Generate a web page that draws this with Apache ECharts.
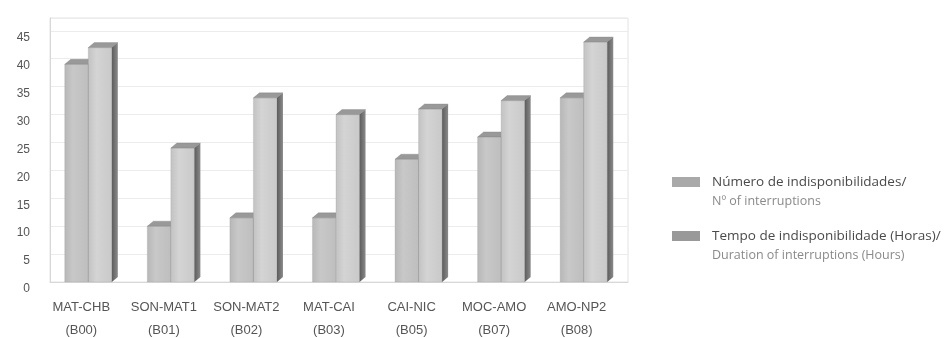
<!DOCTYPE html>
<html>
<head>
<meta charset="utf-8">
<script src="https://cdn.jsdelivr.net/npm/echarts@6/dist/echarts.min.js"></script>
<style>
  html, body { margin: 0; padding: 0; background: #ffffff; }
  #chart { width: 948px; height: 338px; }
</style>
</head>
<body>
<div id="chart"></div>
<script>
// Unavailability per line section
const categories = [
  'MAT-CHB\n(B00)', 'SON-MAT1\n(B01)', 'SON-MAT2\n(B02)', 'MAT-CAI\n(B03)',
  'CAI-NIC\n(B05)', 'MOC-AMO\n(B07)', 'AMO-NP2\n(B08)'
];
const interruptions = [39, 10, 11.5, 11.5, 22, 26, 33];
const duration = [42, 24, 33, 30, 31, 32.5, 43];
const seriesNames = [
  'Número de indisponibilidades/\nNº of interruptions',
  'Tempo de indisponibilidade (Horas)/\nDuration of interruptions (Hours)'
];
const yTicks = [0, 5, 10, 15, 20, 25, 30, 35, 40, 45];

const FONT = '"Liberation Sans", Arial, sans-serif';
const LEGEND_FONT = '"Open Sans", "Liberation Sans", sans-serif';

// Pseudo-3D column: front face, top face and right side face
function columnRenderer(slot) {
  return function (params, api) {
    const cat = api.value(0);
    const v = api.value(1);
    const top = api.coord([cat, v]);
    const base = api.coord([cat, 0]);
    const band = api.size([1, 0])[0];
    const w = band * 0.285;
    const dx = 6, dy = 5;
    const x0 = top[0] - w - dx / 2 + slot * w;
    const ty = top[1], by = base[1];
    return {
      type: 'group',
      children: [
        {
          type: 'rect',
          shape: { x: x0, y: ty, width: w, height: by - ty },
          style: {
            fill: new echarts.graphic.LinearGradient(0, 0, 1, 0, [
              { offset: 0, color: slot === 0 ? '#b7b7b7' : '#c2c2c2' },
              { offset: 0.35, color: slot === 0 ? '#c8c8c8' : '#d4d4d4' },
              { offset: 1, color: slot === 0 ? '#bebebe' : '#c9c9c9' }
            ]),
            stroke: 'rgba(150,150,150,0.5)', lineWidth: 0.5
          }
        },
        {
          type: 'polygon',
          shape: { points: [[x0, ty], [x0 + dx, ty - dy], [x0 + w + dx, ty - dy], [x0 + w, ty]] },
          style: { fill: '#999999', stroke: 'rgba(120,120,120,0.6)', lineWidth: 0.5 }
        },
        {
          type: 'polygon',
          shape: { points: [[x0 + w, ty], [x0 + w + dx, ty - dy], [x0 + w + dx, by - dy], [x0 + w, by]] },
          style: {
            fill: new echarts.graphic.LinearGradient(0, 0, 1, 0, [
              { offset: 0, color: '#5c5c5c' },
              { offset: 1, color: '#8a8a8a' }
            ])
          }
        }
      ]
    };
  };
}

function legendText(name) {
  const parts = name.split('\n');
  return '{a| }\n{a|' + parts[0] + '}\n{b|' + parts[1] + '}';
}

const legendRich = {
  a: { fontFamily: LEGEND_FONT, fontSize: 13.5, color: '#4a4a4a', lineHeight: 19, padding: [0, 0, 0, 7] },
  b: { fontFamily: LEGEND_FONT, fontSize: 12.5, color: '#8a8a8a', lineHeight: 19, padding: [0, 0, 0, 7] }
};

const chart = echarts.init(document.getElementById('chart'), null, { renderer: 'canvas' });
chart.setOption({
  animation: false,
  backgroundColor: '#ffffff',
  grid: {
    left: 50, right: 320, top: 18, bottom: 56,
    outerBoundsMode: 'none', containLabel: false,
    show: true, borderColor: '#e2e2e2', borderWidth: 1
  },
  legend: [
    {
      data: [seriesNames[0]], left: 667, top: 151, orient: 'vertical',
      itemWidth: 28, itemHeight: 10, icon: 'rect', itemGap: 0,
      formatter: legendText, textStyle: { rich: legendRich }
    },
    {
      data: [seriesNames[1]], left: 667, top: 205, orient: 'vertical',
      itemWidth: 28, itemHeight: 10, icon: 'rect', itemGap: 0,
      formatter: legendText, textStyle: { rich: legendRich }
    }
  ],
  xAxis: {
    type: 'category',
    data: categories,
    axisLine: { show: true, lineStyle: { color: '#d8d8d8' } },
    axisTick: { show: false },
    axisLabel: {
      interval: 0, hideOverlap: false,
      fontFamily: FONT, fontSize: 13, color: '#555555', lineHeight: 23,
      margin: 14, padding: [0, 20, 0, 0]
    }
  },
  yAxis: {
    type: 'value',
    min: 0, max: 47.3, interval: 5,
    axisLine: { show: true, lineStyle: { color: '#d8d8d8' } },
    axisTick: { show: false },
    splitLine: { show: true, lineStyle: { color: '#ececec' } },
    axisLabel: {
      fontFamily: FONT, fontSize: 12, color: '#555555', margin: 20,
      verticalAlign: 'top', lineHeight: 14, showMaxLabel: false,
      formatter: function (v) { return yTicks.indexOf(v) >= 0 ? String(v) : ''; }
    }
  },
  series: [
    {
      name: seriesNames[0], type: 'custom', color: '#a9a9a9',
      renderItem: columnRenderer(0),
      encode: { x: 0, y: 1 },
      data: interruptions.map(function (v, i) { return [i, v]; })
    },
    {
      name: seriesNames[1], type: 'custom', color: '#999999',
      renderItem: columnRenderer(1),
      encode: { x: 0, y: 1 },
      data: duration.map(function (v, i) { return [i, v]; })
    }
  ]
});
</script>
</body>
</html>
